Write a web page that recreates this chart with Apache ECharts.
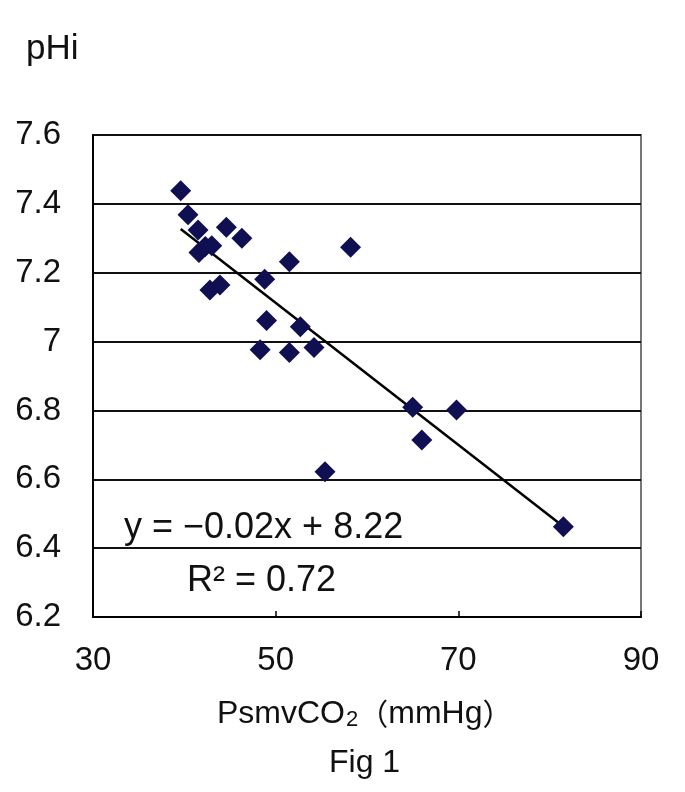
<!DOCTYPE html>
<html>
<head>
<meta charset="utf-8">
<script src="https://cdn.jsdelivr.net/npm/echarts@6/dist/echarts.min.js"></script>
<style>html,body{margin:0;padding:0;background:#fff}#c{width:685px;height:792px}</style>
</head>
<body>
<div id="c"></div>
<script>
const xValues = [39.6, 40.4, 41.5, 44.6, 46.3, 41.6, 42.3, 43.0, 51.5, 58.2, 48.8, 42.8, 43.9, 49.0, 52.7, 48.3, 51.5, 54.2, 65.0, 69.8, 66.0, 55.4, 81.5];
const yValues = [7.438, 7.368, 7.324, 7.332, 7.300, 7.259, 7.276, 7.278, 7.232, 7.274, 7.181, 7.150, 7.164, 7.061, 7.043, 6.976, 6.968, 6.983, 6.809, 6.801, 6.714, 6.622, 6.462];
const xTicks = [30, 50, 70, 90];
const yTicks = [6.2, 6.4, 6.6, 6.8, 7, 7.2, 7.4, 7.6];
const equationText = 'y = \u22120.02x + 8.22';
const r2Text = 'R\u00b2 = 0.72';

const points = xValues.map((x, i) => [x, yValues[i]]);
// least-squares trend line computed from data
const n = xValues.length;
const mx = xValues.reduce((a, b) => a + b, 0) / n;
const my = yValues.reduce((a, b) => a + b, 0) / n;
let sxy = 0, sxx = 0;
for (let i = 0; i < n; i++) { sxy += (xValues[i] - mx) * (yValues[i] - my); sxx += (xValues[i] - mx) ** 2; }
const slope = sxy / sxx, icpt = my - slope * mx;
const xmin = Math.min(...xValues), xmax = Math.max(...xValues);
const trend = [[xmin, icpt + slope * xmin], [xmax, icpt + slope * xmax]];

const font = 'Liberation Sans, Arial, sans-serif';
const cjk = '"Noto Sans CJK JP", sans-serif';
const chart = echarts.init(document.getElementById('c'));
chart.setOption({
  animation: false,
  backgroundColor: '#fff',
  grid: { left: 93, top: 135, width: 548, height: 482, show: true, borderColor: '#777', borderWidth: 2, backgroundColor: 'transparent' },
  xAxis: {
    type: 'value', min: 30, max: 90, interval: 20,
    axisLine: { show: true, lineStyle: { color: '#000', width: 2 } },
    axisTick: { show: true, inside: true, length: 6, lineStyle: { color: '#000', width: 1.5 } },
    axisLabel: { color: '#111', fontSize: 33, fontFamily: font, margin: 27,
      formatter: v => xTicks.includes(v) ? String(v) : '' },
    splitLine: { show: false }
  },
  yAxis: {
    type: 'value', min: 6.2, max: 7.6, interval: 0.2,
    axisLine: { show: true, lineStyle: { color: '#000', width: 2 } },
    axisTick: { show: false },
    axisLabel: { color: '#111', fontSize: 33, fontFamily: font, margin: 32,
      formatter: v => { const t = yTicks.find(k => Math.abs(k - v) < 1e-6); return t === undefined ? '' : String(t); } },
    splitLine: { show: true, lineStyle: { color: '#111', width: 2 } }
  },
  series: [
    { type: 'line', data: trend, symbol: 'none', lineStyle: { color: '#000', width: 2.5 }, z: 3 },
    { type: 'scatter', data: points, symbol: 'diamond', symbolSize: 21, itemStyle: { color: '#0f0f52', opacity: 1 }, z: 4 }
  ],
  graphic: [
    { type: 'text', left: 26, top: 32, style: { text: 'pHi', font: '35px ' + font, fill: '#111' } },
    { type: 'text', left: 124, top: 510, style: { text: equationText, font: '36px ' + font, fill: '#111' }, z: 10 },
    { type: 'text', left: 187, top: 563, style: { text: r2Text, font: '36px ' + font, fill: '#111' }, z: 10 },
    { type: 'text', left: 217, top: 698, style: {
        text: '{a|PsmvCO}{s|2}{p|\uff08}{a|mmHg}{p|\uff09}',
        rich: { a: { font: '32px ' + font, fill: '#111', color: '#111' },
                s: { font: '22px ' + font, fill: '#111', color: '#111', padding: [12, 0, 0, 1] },
                p: { font: '30px ' + cjk, fill: '#111', color: '#111' } } } },
    { type: 'text', left: 329, top: 747, style: { text: 'Fig 1', font: '32px ' + font, fill: '#111' } }
  ]
});
</script>
</body>
</html>
